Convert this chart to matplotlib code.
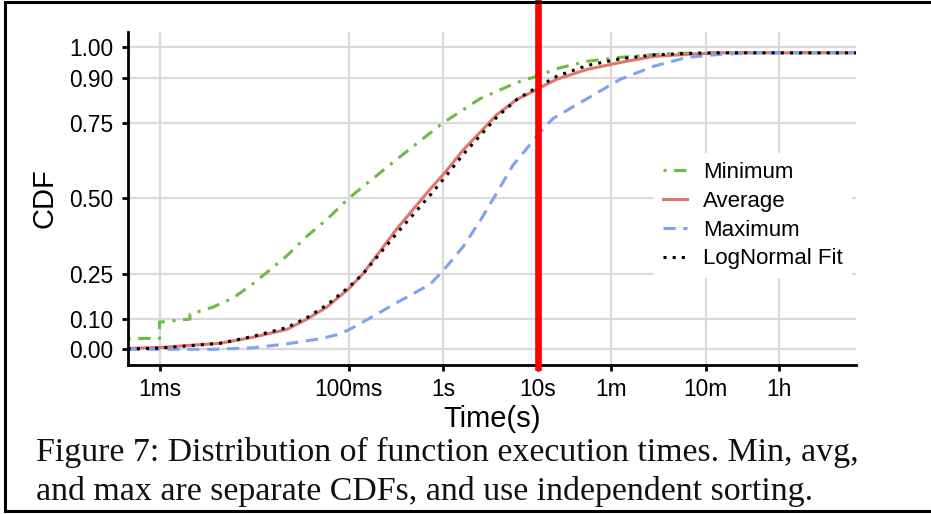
import matplotlib
matplotlib.use("Agg")
import matplotlib.pyplot as plt
from matplotlib.lines import Line2D
from matplotlib.ticker import NullLocator

# values (time in seconds, CDF)
min_t = [4.6e-4, 0.001, 0.001, 0.0021, 0.0021, 0.0037, 0.006, 0.0091, 0.0137, 0.0223,
         0.0364, 0.059, 0.1, 0.326, 1.0, 2.46, 6.07, 10.0, 16.1, 33.4, 74.7, 252, 853, 23400]
min_cdf = [0.036, 0.036, 0.09, 0.10, 0.116, 0.14, 0.17, 0.21, 0.255, 0.31,
           0.375, 0.43, 0.50, 0.63, 0.75, 0.83, 0.884, 0.905, 0.93, 0.954, 0.967, 0.98, 0.983, 0.983]

avg_t = [4.6e-4, 0.001, 0.0044, 0.0098, 0.0223, 0.0364, 0.059, 0.1, 0.142, 0.326, 0.728,
         1.05, 1.63, 3.73, 6.07, 8.96, 10.6, 16.1, 33.4, 74.7, 167, 382, 853, 23400]
avg_cdf = [0.003, 0.006, 0.02, 0.04, 0.066, 0.10, 0.14, 0.20, 0.25, 0.40, 0.53,
           0.586, 0.66, 0.778, 0.828, 0.854, 0.867, 0.895, 0.927, 0.95, 0.97, 0.977, 0.982, 0.982]

max_t = [4.6e-4, 0.0037, 0.0098, 0.0223, 0.05, 0.075, 0.1, 0.142, 0.326, 0.728, 1.0, 1.63,
         2.46, 3.73, 5.5, 8.96, 10.0, 14.6, 33.4, 74.7, 167, 382, 853, 1906, 23400]
max_cdf = [0.0, 0.0, 0.005, 0.018, 0.035, 0.048, 0.064, 0.09, 0.155, 0.215, 0.26, 0.34,
           0.425, 0.52, 0.61, 0.69, 0.71, 0.765, 0.83, 0.894, 0.937, 0.967, 0.977, 0.982, 0.982]

fit_t = [4.6e-4, 0.001, 0.0044, 0.0098, 0.0223, 0.0364, 0.059, 0.1, 0.142, 0.326, 0.728,
         1.05, 1.63, 3.73, 6.07, 8.96, 16.1, 33.4, 74.7, 167, 382, 853, 23400]
fit_cdf = [0.001, 0.004, 0.02, 0.043, 0.072, 0.105, 0.147, 0.205, 0.25, 0.385, 0.51,
           0.57, 0.645, 0.77, 0.828, 0.86, 0.905, 0.94, 0.962, 0.975, 0.98, 0.982, 0.982]

x_ticks = [0.001, 0.1, 1, 10, 60, 600, 3600]
x_labels = ["1ms", "100ms", "1s", "10s", "1m", "10m", "1h"]
y_ticks = [0.0, 0.10, 0.25, 0.50, 0.75, 0.90, 1.00]
y_labels = ["0.00", "0.10", "0.25", "0.50", "0.75", "0.90", "1.00"]
marker_t = 10  # red line

caption = ["Figure 7: Distribution of function execution times. Min, avg,",
           "and max are separate CDFs, and use independent sorting."]

plt.rcParams['font.family'] = ['Liberation Sans', 'DejaVu Sans']

fig = plt.figure(figsize=(9.31, 5.14), dpi=100)
ax = fig.add_axes([128/931, 1-365/514, 728/931, 333/514])

lw = 2.2
ax.plot(min_t, min_cdf, color='#6cbb45', lw=lw, ls=(0, (1, 2.5, 4, 2.5)), label='Minimum')
ax.plot(avg_t, avg_cdf, color='#e0776e', lw=lw, ls='-', label='Average')
ax.plot(max_t, max_cdf, color='#7ea2f4', lw=lw, ls=(0, (4, 2.5)), label='Maximum')
ax.plot(fit_t, fit_cdf, color='black', lw=lw, ls=(0, (1, 2)), label='LogNormal Fit')

ax.set_xscale('log')
ax.set_xlim(4.64e-4, 2.34e4)
ax.set_ylim(-0.052, 1.051)
ax.set_xticks(x_ticks)
ax.set_xticklabels(x_labels)
ax.xaxis.set_minor_locator(NullLocator())
ax.set_yticks(y_ticks)
ax.set_yticklabels(y_labels)

ax.grid(True, color='#dadada', lw=1.6)
ax.set_axisbelow(True)
for s in ['top', 'right']:
    ax.spines[s].set_visible(False)
for s in ['left', 'bottom']:
    ax.spines[s].set_linewidth(2)
ax.tick_params(axis='both', length=4.5, width=2, labelsize=16.4, colors='black')
ax.tick_params(axis='y', pad=6)
ax.tick_params(axis='x', pad=4.5)

ax.set_xlabel('Time(s)', fontsize=21, labelpad=3)
ax.set_ylabel('CDF', fontsize=21, labelpad=8)

ax.plot([marker_t, marker_t], [-0.005, 1.1], color='red', lw=4.8,
        transform=ax.get_xaxis_transform(), clip_on=False, zorder=5)

leg = ax.legend(loc='upper left', bbox_to_anchor=(0.7225, 0.636), borderaxespad=0,
                fontsize=16, frameon=True, facecolor='white', edgecolor='none',
                framealpha=1, fancybox=False, borderpad=0.4, handlelength=1.08,
                handletextpad=0.72, labelspacing=0.35)

for i, line in enumerate(caption):
    fig.text(36/931, 1 - (460.7 + 39.5*i)/514, line, fontsize=24.4,
             family='Liberation Serif', va='baseline', ha='left', color='#111111')

# frame around the figure (top, left, bottom)
fig.add_artist(Line2D([4.5/931, 1], [1-1.5/514, 1-1.5/514], color='black', lw=2.2))
fig.add_artist(Line2D([4.5/931, 4.5/931], [1-1.5/514, 1-511/514], color='black', lw=2.2))
fig.add_artist(Line2D([4.5/931, 1], [1-511/514, 1-511/514], color='black', lw=2.2))

fig.savefig('out.png', dpi=100)
